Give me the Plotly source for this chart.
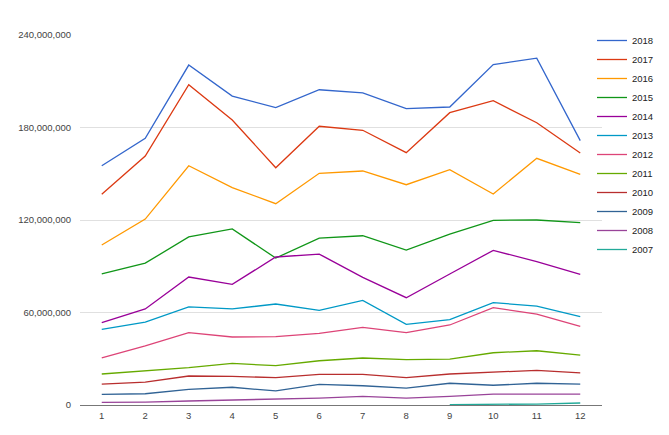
import plotly.graph_objects as go

months = list(range(1, 13))
years = ["2018", "2017", "2016", "2015", "2014", "2013", "2012", "2011", "2010", "2009", "2008", "2007"]
colors = ["#3366cc", "#dc3912", "#ff9900", "#109618", "#990099", "#0099c6",
          "#dd4477", "#66aa00", "#b82e2e", "#316395", "#994499", "#22aa99"]

v2018 = [155.2, 173.0, 220.5, 200.4, 192.9, 204.5, 202.4, 192.2, 193.3, 220.8, 225.0, 171.5]
v2017 = [136.7, 161.5, 207.8, 184.9, 153.9, 180.8, 178.2, 163.7, 189.6, 197.4, 183.1, 163.5]
v2016 = [103.8, 120.6, 155.2, 141.0, 130.6, 150.3, 151.8, 142.9, 152.6, 136.9, 160.0, 149.6]
v2015 = [85.0, 92.0, 109.0, 114.2, 95.3, 108.3, 109.8, 100.5, 110.9, 119.8, 120.0, 118.3]
v2014 = [53.4, 62.3, 83.0, 78.3, 96.0, 97.9, 82.8, 69.6, 85.0, 100.3, 93.0, 84.8]
v2013 = [49.1, 53.8, 63.6, 62.3, 65.5, 61.4, 67.9, 52.3, 55.4, 66.4, 64.2, 57.3]
v2012 = [30.5, 38.3, 46.9, 44.1, 44.3, 46.5, 50.4, 46.9, 51.9, 63.1, 59.0, 51.0]
v2011 = [20.1, 22.3, 24.2, 27.0, 25.5, 28.7, 30.5, 29.4, 29.8, 33.9, 35.2, 32.4]
v2010 = [13.6, 14.9, 18.8, 18.6, 17.7, 19.9, 19.9, 17.7, 20.1, 21.4, 22.5, 20.8]
v2009 = [6.9, 7.3, 10.2, 11.5, 9.1, 13.4, 12.5, 11.0, 14.1, 12.8, 14.1, 13.6]
v2008 = [1.7, 1.9, 2.6, 3.2, 3.9, 4.5, 5.6, 4.5, 5.6, 7.1, 7.1, 7.1]
v2007 = [None, None, None, None, None, None, None, None, 0.3, 0.3, 0.6, 1.3]

series = [v2018, v2017, v2016, v2015, v2014, v2013, v2012, v2011, v2010, v2009, v2008, v2007]
y_ticks = [0, 60_000_000, 120_000_000, 180_000_000, 240_000_000]

fig = go.Figure()
for name, col, vals in zip(years, colors, series):
    fig.add_trace(go.Scatter(
        x=months,
        y=[None if v is None else v * 1_000_000 for v in vals],
        mode="lines", name=name,
        line=dict(color=col, width=1.3),
        connectgaps=False,
    ))

W, H = 661, 427
fig.update_layout(
    width=W, height=H,
    margin=dict(l=72, r=67, t=27, b=30, autoexpand=False),
    paper_bgcolor="white", plot_bgcolor="white",
    font=dict(family="Liberation Sans, Arial, sans-serif", size=10, color="#444"),
    showlegend=True,
    legend=dict(xref="container", yref="container",
                x=584 / W, y=1 - 18 / H, xanchor="left", yanchor="top",
                font=dict(size=9.5, color="#222"), itemwidth=30,
                maxheight=1.0,
                tracegroupgap=0, bgcolor="rgba(0,0,0,0)"),
    xaxis=dict(range=[0.5, 12.5], tickmode="array", tickvals=months,
               ticktext=[str(m) for m in months], showgrid=False,
               zeroline=False, showline=False, ticks="", automargin=False,
               ticklabelstandoff=3,
               tickfont=dict(size=9.5, color="#444")),
    yaxis=dict(range=[0, 240_000_000], tickmode="array", tickvals=y_ticks,
               ticktext=[f"{t:,}" for t in y_ticks], showgrid=True,
               gridcolor="#e0e0e0", gridwidth=1, zeroline=True,
               zerolinecolor="#777", zerolinewidth=1, ticks="", automargin=False,
               ticklabelstandoff=8, tickfont=dict(size=9.5, color="#444")),
)

fig.write_html("out.html")
